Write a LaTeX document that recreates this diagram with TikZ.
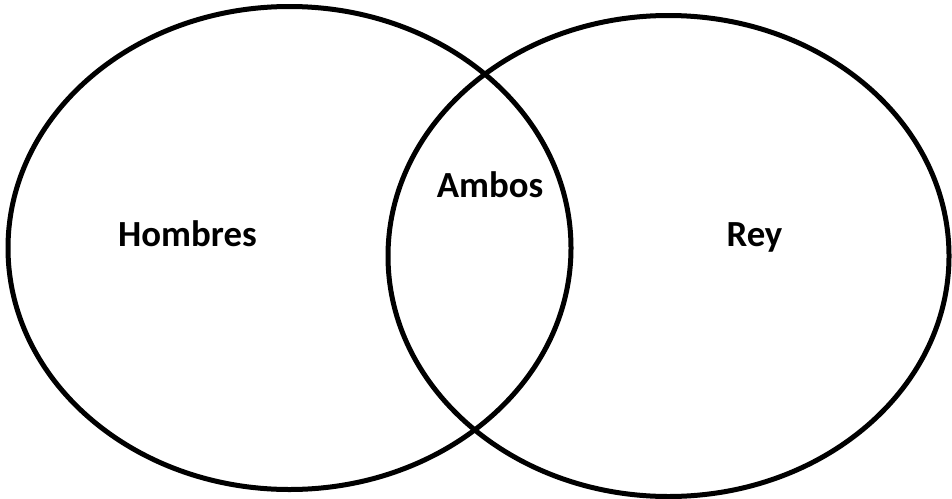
\documentclass[tikz,border=0pt]{standalone}
\usepackage{fontspec}
\setmainfont{Carlito}

\begin{document}
\begin{tikzpicture}[
  x=1pt, y=-1pt,
  set/.style={line width=5pt, black},
  setlabel/.style={font=\fontsize{36.8}{44}\selectfont\bfseries, anchor=base, inner sep=0pt},
]
\useasboundingbox (0,0) rectangle (952,498);

% === SETS ===
\draw[set] (289.5,248) ellipse [x radius=281.5, y radius=241.5];
\draw[set] (668.5,256) ellipse [x radius=280.5, y radius=240.5];

% === LABELS ===
\node[setlabel] (hombres) at (187.5,246.5) {Hombres};
\node[setlabel] (ambos) at (490,197) {Ambos};
\node[setlabel] (rey) at (754.5,246.5) {Rey};
\end{tikzpicture}
\end{document}
